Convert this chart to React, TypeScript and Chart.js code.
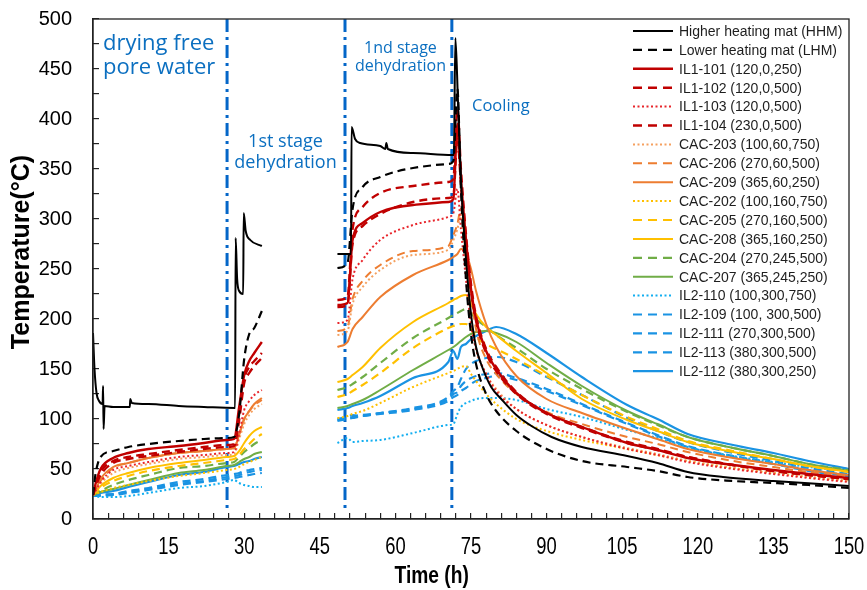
import React, { useEffect, useRef } from 'react';
import { Chart, registerables } from 'chart.js';
Chart.register(...registerables);

// ---- time grids (h) ----
const T1 = [0, 0.5, 1.5, 4, 7, 11, 17, 22, 26.5, 28, 29, 30, 31, 32, 33.5];
const T2 = [48.5, 50.5, 51.5, 53.5, 57, 63.5, 70.5, 71.5, 72.3, 73, 74, 75, 76, 78, 80, 84, 90, 97, 106, 112, 118, 127, 135, 142, 150];

// ---- Higher heating mat (own time base) ----
const hhmT1 = [0, 0.3, 0.7, 1.2, 1.9, 2.0, 2.1, 2.3, 4, 7.3, 7.4, 7.7, 11, 17, 22, 28.2, 28.3, 28.6, 29.0, 29.8, 29.9, 30.3, 31.2, 33.5];
const hhmV1 = [186, 150, 126, 118, 115, 133, 90, 113, 112, 112, 120, 116, 115, 113, 112, 111, 281, 240, 228, 225, 306, 288, 279, 273];
const hhmT2 = [48.5, 51.2, 51.3, 52, 53, 57, 58, 58.2, 58.5, 63.5, 71.3, 71.6, 71.9, 72.4, 73, 74, 75, 76, 77, 79, 81, 84, 87, 91, 97, 106, 112, 118, 125, 135, 150];
const hhmV2 = [265, 265, 392, 380, 376, 373, 370, 376, 370, 366, 364, 364, 481, 420, 340, 260, 205, 172, 155, 132, 120, 104, 93, 82, 72, 63, 56, 47, 42, 38, 33];

// ---- other series: 15 values on T1, then 25 values on T2 ----
const lhm = [24, 45, 62, 68, 72, 75, 78, 80, 81, 82, 105, 160, 185, 191, 208, 251, 256, 310, 332, 342, 351, 355, 358, 430, 330, 240, 185, 155, 125, 108, 88, 70, 58, 52, 48, 42, 38, 36, 34, 31];
const il1_101 = [24, 35, 50, 61, 66, 70, 73, 76, 79, 80, 112, 144, 158, 166, 177, 214, 216, 279, 296, 307, 314, 317, 320, 395, 340, 280, 230, 200, 168, 150, 126, 106, 92, 76, 69, 61, 54, 49, 45, 41];
const il1_102 = [24, 32, 44, 56, 60, 63, 67, 70, 72, 73, 99, 136, 146, 153, 161, 219, 222, 290, 312, 326, 333, 337, 340, 410, 350, 285, 235, 203, 170, 152, 127, 106, 92, 77, 70, 62, 54, 48, 44, 40];
const il1_103 = [24, 28, 37, 49, 53, 57, 62, 64, 66, 67, 85, 109, 118, 124, 129, 196, 199, 240, 259, 279, 294, 302, 306, 330, 290, 240, 195, 170, 145, 128, 110, 94, 82, 70, 64, 57, 50, 45, 41, 37];
const il1_104 = [24, 33, 47, 58, 62, 65, 69, 72, 74, 75, 104, 140, 152, 158, 166, 212, 214, 275, 293, 305, 317, 321, 323, 380, 335, 275, 228, 198, 166, 148, 125, 105, 91, 76, 69, 62, 54, 48, 44, 40];
const cac203 = [24, 27, 35, 46, 51, 55, 60, 62, 64, 65, 80, 95, 104, 110, 115, 184, 188, 215, 232, 249, 264, 269, 279, 290, 305, 250, 200, 170, 145, 130, 110, 94, 82, 71, 65, 58, 51, 46, 42, 38];
const cac206 = [24, 28, 38, 51, 56, 61, 66, 68, 70, 71, 85, 100, 108, 114, 119, 188, 192, 220, 238, 254, 268, 273, 284, 295, 310, 270, 225, 190, 160, 145, 125, 107, 95, 82, 75, 67, 58, 52, 47, 43];
const cac209 = [24, 29, 40, 52, 56, 61, 66, 68, 70, 71, 84, 100, 108, 115, 121, 172, 177, 190, 202, 222, 244, 259, 262, 265, 270, 266, 250, 228, 195, 172, 143, 120, 106, 90, 80, 70, 61, 55, 49, 44];
const cac202 = [24, 25, 27, 31, 34, 38, 43, 46, 49, 50, 52, 55, 57, 59, 62, 101, 103, 105, 108, 116, 132, 146, 148, 150, 152, 153, 145, 138, 125, 115, 100, 88, 79, 70, 64, 58, 51, 46, 42, 38];
const cac205 = [24, 26, 31, 38, 43, 48, 53, 56, 59, 60, 64, 70, 75, 80, 85, 122, 125, 128, 134, 146, 171, 191, 193, 194, 195, 195, 190, 182, 175, 170, 160, 143, 124, 102, 90, 78, 68, 60, 53, 47];
const cac208 = [24, 27, 33, 41, 46, 51, 56, 59, 62, 63, 68, 76, 83, 88, 92, 137, 140, 144, 152, 171, 197, 216, 219, 221, 223, 224, 215, 205, 192, 184, 168, 146, 120, 99, 88, 77, 67, 60, 53, 47];
const cac204 = [24, 25, 28, 34, 39, 44, 51, 53, 56, 57, 62, 67, 71, 75, 79, 129, 132, 135, 142, 156, 181, 201, 204, 206, 208, 210, 206, 200, 192, 184, 171, 150, 130, 107, 94, 82, 71, 63, 55, 49];
const cac207 = [24, 25, 27, 30, 34, 39, 46, 49, 53, 54, 57, 60, 62, 65, 67, 111, 113, 115, 119, 129, 149, 169, 172, 175, 178, 182, 185, 187, 188, 186, 177, 156, 133, 108, 95, 82, 71, 63, 55, 48];
const il2_110 = [24, 23, 22, 22, 23, 26, 31, 33, 37, 39, 36, 34, 33, 32, 32, 76, 81, 77, 78, 79, 86, 94, 95, 105, 112, 116, 118, 120, 121, 121, 119, 110, 102, 89, 81, 72, 63, 57, 52, 48];
const il2_109 = [24, 23, 23, 24, 26, 29, 34, 37, 40, 41, 42, 43, 44, 45, 46, 98, 100, 101, 103, 105, 109, 118, 122, 124, 128, 131, 135, 138, 141, 143, 139, 128, 114, 95, 83, 72, 62, 55, 48, 43];
const il2_111 = [24, 23, 24, 25, 27, 30, 35, 38, 42, 43, 44, 46, 47, 48, 49, 100, 102, 104, 103, 106, 110, 120, 125, 127, 133, 138, 141, 143, 145, 146, 141, 130, 115, 96, 84, 73, 63, 56, 49, 44];
const il2_113 = [24, 23, 24, 25, 28, 31, 37, 40, 44, 45, 46, 48, 49, 50, 51, 99, 101, 102, 104, 106, 111, 122, 128, 132, 140, 150, 155, 158, 161, 162, 157, 142, 124, 101, 88, 77, 66, 58, 51, 45];
const il2_112 = [24, 24, 26, 28, 32, 37, 44, 47, 52, 53, 55, 57, 58, 60, 62, 109, 111, 113, 116, 123, 141, 157, 168, 160, 172, 175, 180, 183, 188, 192, 185, 166, 142, 114, 100, 85, 74, 66, 58, 50];

const phaseLines = [26.6, 50, 71.2];
const xTickStep = 3;
const xLabelStep = 15;
const yTickStep = 25;
const yLabelStep = 50;

const DASH = [8, 5];
const DOT = [2, 2.5];
const RED = '#C00000';
const RED2 = '#E8252B';
const ORANGE = '#ED7D31';
const ORANGE_L = '#F5A05F';
const YELLOW = '#FFC000';
const GREEN = '#70AD47';
const BLUE = '#1A93E3';
const BLUE_L = '#12AEF0';

const seriesDefs = [
  { label: 'Higher heating mat (HHM)', color: '#000000', dash: [], width: 2 },
  { label: 'Lower heating mat (LHM)', data: lhm, color: '#000000', dash: DASH, width: 2.2 },
  { label: 'IL1-101 (120,0,250)', data: il1_101, color: RED, dash: [], width: 2.4 },
  { label: 'IL1-102 (120,0,500)', data: il1_102, color: RED, dash: DASH, width: 2.4 },
  { label: 'IL1-103 (120,0,500)', data: il1_103, color: RED2, dash: DOT, width: 2 },
  { label: 'IL1-104 (230,0,500)', data: il1_104, color: RED, dash: DASH, width: 2.4 },
  { label: 'CAC-203 (100,60,750)', data: cac203, color: ORANGE_L, dash: DOT, width: 2 },
  { label: 'CAC-206 (270,60,500)', data: cac206, color: ORANGE, dash: DASH, width: 2 },
  { label: 'CAC-209 (365,60,250)', data: cac209, color: ORANGE, dash: [], width: 2 },
  { label: 'CAC-202 (100,160,750)', data: cac202, color: YELLOW, dash: DOT, width: 2 },
  { label: 'CAC-205 (270,160,500)', data: cac205, color: YELLOW, dash: DASH, width: 2.2 },
  { label: 'CAC-208 (365,160,250)', data: cac208, color: YELLOW, dash: [], width: 2 },
  { label: 'CAC-204 (270,245,500)', data: cac204, color: GREEN, dash: DASH, width: 2.2 },
  { label: 'CAC-207 (365,245,250)', data: cac207, color: GREEN, dash: [], width: 2 },
  { label: 'IL2-110 (100,300,750)', data: il2_110, color: BLUE_L, dash: DOT, width: 2 },
  { label: 'IL2-109 (100, 300,500)', data: il2_109, color: BLUE, dash: DASH, width: 2.2 },
  { label: 'IL2-111 (270,300,500)', data: il2_111, color: BLUE, dash: DASH, width: 2.2 },
  { label: 'IL2-113 (380,300,500)', data: il2_113, color: BLUE, dash: DASH, width: 2.2 },
  { label: 'IL2-112 (380,300,250)', data: il2_112, color: BLUE, dash: [], width: 2.2 },
];

function toPoints(vals: number[]) {
  const pts: any[] = [];
  T1.forEach((t, i) => pts.push({ x: t, y: vals[i] }));
  pts.push({ x: 40, y: null });
  T2.forEach((t, i) => pts.push({ x: t, y: vals[T1.length + i] }));
  return pts;
}
function hhmPoints() {
  const pts: any[] = [];
  hhmT1.forEach((t, i) => pts.push({ x: t, y: hhmV1[i] }));
  pts.push({ x: 40, y: null });
  hhmT2.forEach((t, i) => pts.push({ x: t, y: hhmV2[i] }));
  return pts;
}

const annotations = [
  { lines: ['drying free', 'pore water'], x: 2.0, y: 469, size: 22, align: 'left', gap: 24 },
  { lines: ['1st stage', 'dehydration'], x: 38.2, y: 372, size: 18, align: 'center', gap: 21 },
  { lines: ['1nd stage', 'dehydration'], x: 61, y: 466, size: 16, align: 'center', gap: 18 },
  { lines: ['Cooling'], x: 75.2, y: 408, size: 16.5, align: 'left', gap: 0 },
];

const ARIAL = '"Liberation Sans", Arial, sans-serif';
const SEGOE = '"Open Sans", "Noto Sans", sans-serif';
const NLEG = seriesDefs.length;

const overlayPlugin = {
  id: 'overlay',
  afterDraw(chart: any) {
    const { ctx, chartArea: a, scales } = chart;
    const xs = scales.x, ys = scales.y;
    ctx.save();
    // box
    ctx.strokeStyle = '#222';
    ctx.lineWidth = 1.3;
    ctx.setLineDash([]);
    ctx.strokeRect(a.left, a.top, a.right - a.left, a.bottom - a.top);
    // x tick labels (narrow)
    ctx.fillStyle = '#000';
    ctx.font = `23px ${ARIAL}`;
    ctx.textAlign = 'center';
    ctx.textBaseline = 'top';
    xs.ticks.forEach((t: any) => {
      if (Math.round(t.value) % xLabelStep !== 0) return;
      ctx.save();
      ctx.translate(xs.getPixelForValue(t.value), a.bottom + 17);
      ctx.scale(0.8, 1);
      ctx.fillText(String(t.value), 0, 0);
      ctx.restore();
    });
    // annotations
    ctx.fillStyle = '#0B6FC0';
    ctx.textBaseline = 'alphabetic';
    annotations.forEach((an) => {
      ctx.font = `${an.size}px ${SEGOE}`;
      ctx.textAlign = an.align;
      const px = xs.getPixelForValue(an.x);
      const py = ys.getPixelForValue(an.y);
      an.lines.forEach((ln, i) => ctx.fillText(ln, px, py + i * an.gap));
    });
    // legend
    const lx0 = a.right - 216, lx1 = a.right - 176, tx = a.right - 170;
    const ly0 = a.top + 12, step = 18.9;
    ctx.font = `14px ${ARIAL}`;
    ctx.textAlign = 'left';
    ctx.textBaseline = 'middle';
    for (let i = 0; i < NLEG; i++) {
      const ds = chart.data.datasets[i];
      const y = ly0 + i * step;
      ctx.strokeStyle = ds.borderColor;
      ctx.lineWidth = Math.max(2, ds.borderWidth);
      const d = ds.borderDash && ds.borderDash.length ? (ds.borderDash[0] <= 2 ? [2, 2.5] : [9, 6]) : [];
      ctx.setLineDash(d);
      ctx.beginPath();
      ctx.moveTo(lx0, y);
      ctx.lineTo(lx1, y);
      ctx.stroke();
      ctx.setLineDash([]);
      ctx.fillStyle = '#1E1E1E';
      ctx.fillText(ds.label, tx, y + 1);
    }
    // axis titles
    ctx.fillStyle = '#000';
    ctx.textAlign = 'center';
    ctx.textBaseline = 'middle';
    ctx.save();
    ctx.translate(xs.getPixelForValue(67.2), 576);
    ctx.scale(0.8, 1);
    ctx.font = `bold 24px ${ARIAL}`;
    ctx.fillText('Time (h)', 0, 0);
    ctx.restore();
    ctx.save();
    ctx.translate(22, ys.getPixelForValue(267));
    ctx.rotate(-Math.PI / 2);
    ctx.font = `bold 25px ${ARIAL}`;
    ctx.fillText('Temperature(°C)', 0, 0);
    ctx.restore();
    ctx.restore();
  },
};

const noPad = (s: any) => { s.paddingTop = 0; s.paddingBottom = 0; s.paddingLeft = 0; s.paddingRight = 0; };

export default function App() {
  const ref = useRef<HTMLCanvasElement>(null);
  useEffect(() => {
    if (!ref.current) return;
    const datasets: any[] = seriesDefs.map((s, i) => ({
      label: s.label,
      data: i === 0 ? hhmPoints() : toPoints(s.data as number[]),
      borderColor: s.color,
      backgroundColor: s.color,
      borderDash: s.dash,
      borderWidth: s.width,
      pointRadius: 0,
      spanGaps: false,
      cubicInterpolationMode: 'monotone',
      fill: false,
    }));
    phaseLines.forEach((t) => {
      datasets.push({
        label: '',
        data: [{ x: t, y: 500 }, { x: t, y: 8 }],
        borderColor: '#0466C8',
        borderWidth: 3,
        borderDash: [13, 5, 3, 5],
        pointRadius: 0,
        fill: false,
      });
    });
    const chart = new Chart(ref.current, {
      type: 'line',
      data: { datasets },
      options: {
        responsive: false,
        animation: false,
        layout: { padding: { top: 19, right: 18, left: 0, bottom: 0 } },
        plugins: { legend: { display: false }, tooltip: { enabled: false } },
        scales: {
          x: {
            type: 'linear',
            min: 0,
            max: 150,
            afterFit: (s: any) => { s.height = 71; noPad(s); },
            ticks: {
              display: false,
              stepSize: xTickStep,
              autoSkip: false,
              maxRotation: 0,
            },
            grid: { drawOnChartArea: false, drawTicks: true, tickLength: -6, color: '#222', lineWidth: 1.2 },
            border: { display: true, color: '#222', width: 1.3 },
          },
          y: {
            min: 0,
            max: 500,
            afterFit: (s: any) => { s.width = 93; noPad(s); },
            ticks: {
              stepSize: yTickStep,
              autoSkip: false,
              padding: 27,
              color: '#000',
              font: { family: ARIAL, size: 20 },
              callback: (v: any) => (Math.round(v) % yLabelStep === 0 ? String(v) : ''),
            },
            grid: { drawOnChartArea: false, drawTicks: true, tickLength: -6, color: '#222', lineWidth: 1.2 },
            border: { display: true, color: '#222', width: 1.3 },
          },
        },
      },
      plugins: [overlayPlugin],
    } as any);
    return () => chart.destroy();
  }, []);
  return (
    <div style={{ position: 'fixed', left: 0, top: 0, width: 867, height: 590, background: '#fff' }}>
      <canvas ref={ref} width={867} height={590} />
    </div>
  );
}
